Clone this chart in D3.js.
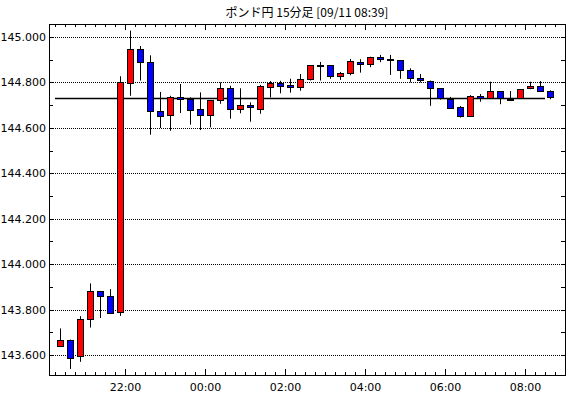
<!DOCTYPE html>
<html lang="ja">
<head>
  <meta charset="utf-8">
  <title>ポンド円 15分足</title>
  <style>
    body { margin: 0; background: #fff; }
    .axis text { font: 11px "DejaVu Sans", sans-serif; fill: #000; }
    .axis line { stroke: #000; shape-rendering: crispEdges; }
    .axis path { display: none; }
    .grid line { stroke: #000; stroke-dasharray: 1,1; shape-rendering: crispEdges; }
    .title { font: 12px "Noto Sans CJK JP", sans-serif; text-anchor: middle; }
  </style>
</head>
<body>
  <div id="chart"></div>

  <script src="https://d3js.org/d3.v7.min.js"></script>
  <script>
    // 15分足 (start times), 20:15 on 09/10 .. 08:30 on 09/11
    var times = [
      "20:15","20:30","20:45","21:00","21:15","21:30","21:45","22:00","22:15","22:30",
      "22:45","23:00","23:15","23:30","23:45","00:00","00:15","00:30","00:45","01:00",
      "01:15","01:30","01:45","02:00","02:15","02:30","02:45","03:00","03:15","03:30",
      "03:45","04:00","04:15","04:30","04:45","05:00","05:15","05:30","05:45","06:00",
      "06:15","06:30","06:45","07:00","07:15","07:30","07:45","08:00","08:15","08:30"
    ];
    var opens = [
      143.642,143.668,143.592,143.757,143.882,143.859,143.786,144.800,144.948,144.889,
      144.673,144.653,144.736,144.728,144.681,144.656,144.721,144.774,144.681,144.700,
      144.684,144.783,144.799,144.789,144.778,144.814,144.875,144.875,144.828,144.840,
      144.889,144.880,144.912,144.902,144.897,144.853,144.818,144.805,144.774,144.728,
      144.690,144.651,144.740,144.731,144.762,144.729,144.730,144.774,144.783,144.761
    ];
    var highs = [
      143.717,143.668,143.771,143.915,143.882,143.890,144.827,145.028,144.960,144.919,
      144.758,144.741,144.793,144.734,144.756,144.722,144.800,144.785,144.774,144.712,
      144.789,144.806,144.807,144.816,144.837,144.876,144.890,144.875,144.846,144.903,
      144.902,144.913,144.921,144.921,144.897,144.862,144.837,144.808,144.774,144.736,
      144.696,144.744,144.749,144.803,144.762,144.762,144.771,144.803,144.806,144.765
    ];
    var lows = [
      143.642,143.539,143.570,143.721,143.763,143.783,143.772,144.741,144.808,144.570,
      144.599,144.587,144.665,144.614,144.590,144.602,144.706,144.640,144.664,144.627,
      144.662,144.734,144.752,144.755,144.763,144.808,144.808,144.816,144.811,144.831,
      144.843,144.867,144.889,144.833,144.816,144.800,144.800,144.697,144.724,144.687,
      144.645,144.651,144.715,144.731,144.704,144.718,144.730,144.770,144.761,144.726
    ];
    var closes = [
      143.668,143.587,143.757,143.882,143.859,143.786,144.800,144.948,144.889,144.673,
      144.653,144.734,144.726,144.681,144.653,144.721,144.774,144.681,144.700,144.689,
      144.784,144.799,144.787,144.778,144.814,144.875,144.875,144.827,144.841,144.893,
      144.880,144.911,144.902,144.898,144.853,144.818,144.808,144.772,144.730,144.690,
      144.649,144.740,144.731,144.762,144.731,144.729,144.771,144.783,144.761,144.734
    ];
    var currentPrice = 144.730;
    var yTicks = [143.6, 143.8, 144.0, 144.2, 144.4, 144.6, 144.8, 145.0];
    var titleText = "ポンド円 15分足 [09/11 08:39]";

    var W = 570, H = 398;
    var mLeft = 49, mRight = 565, mTop = 24, mBottom = 375;

    function toDate(s) {
      var h = +s.slice(0, 2), m = +s.slice(3, 5);
      var day = h >= 12 ? 10 : 11;
      return new Date(2023, 8, day, h, m);
    }

    var data = times.map(function(t, i) {
      return { t: toDate(t), o: opens[i], h: highs[i], l: lows[i], c: closes[i] };
    });

    var x = d3.scaleTime()
      .domain([new Date(2023, 8, 10, 20, 6), new Date(2023, 8, 11, 9, 0)])
      .range([mLeft, mRight]);

    var y = d3.scaleLinear()
      .domain([143.512, 145.057])
      .range([mBottom, mTop]);

    var svg = d3.select("#chart").append("svg")
      .attr("width", W)
      .attr("height", H);

    svg.append("text")
      .attr("class", "title")
      .attr("x", (mLeft + mRight) / 2)
      .attr("y", 17)
      .text(titleText);

    // grid
    svg.append("g").attr("class", "grid")
      .selectAll("line")
      .data(yTicks)
      .enter().append("line")
      .attr("x1", mLeft).attr("x2", mRight)
      .attr("y1", function(d) { return Math.round(y(d)) + 0.5; })
      .attr("y2", function(d) { return Math.round(y(d)) + 0.5; });

    var minor = d3.timeMinute.every(15).range(new Date(2023, 8, 10, 20, 15), new Date(2023, 8, 11, 9, 1));
    var major = d3.timeHour.every(2).range(new Date(2023, 8, 10, 22, 0), new Date(2023, 8, 11, 9, 0));
    var fmt = d3.timeFormat("%H:%M");

    svg.append("g").attr("class", "axis")
      .attr("transform", "translate(0," + mBottom + ")")
      .call(d3.axisBottom(x).tickValues(minor).tickSize(-3).tickFormat(""));
    svg.append("g").attr("class", "axis")
      .attr("transform", "translate(0," + mBottom + ")")
      .call(d3.axisBottom(x).tickValues(major).tickSize(-6).tickPadding(8).tickFormat(fmt));
    svg.append("g").attr("class", "axis")
      .attr("transform", "translate(0," + mTop + ")")
      .call(d3.axisTop(x).tickValues(minor).tickSize(-3).tickFormat(""));
    svg.append("g").attr("class", "axis")
      .attr("transform", "translate(0," + mTop + ")")
      .call(d3.axisTop(x).tickValues(major).tickSize(-6).tickFormat(""));

    var yMinor = d3.range(143.6, 145.05, 0.1);
    svg.append("g").attr("class", "axis")
      .attr("transform", "translate(" + mLeft + ",0)")
      .call(d3.axisLeft(y).tickValues(yMinor).tickSize(-4).tickFormat(""));
    svg.append("g").attr("class", "axis")
      .attr("transform", "translate(" + mLeft + ",0)")
      .call(d3.axisLeft(y).tickValues(yTicks).tickSize(0).tickPadding(3).tickFormat(d3.format(".3f")));
    svg.append("g").attr("class", "axis")
      .attr("transform", "translate(" + mRight + ",0)")
      .call(d3.axisRight(y).tickValues(yMinor).tickSize(-4).tickFormat(""));

    // current price line
    svg.append("line")
      .attr("x1", x(data[0].t)).attr("x2", x(data[data.length - 1].t))
      .attr("y1", Math.round(y(currentPrice)) + 0.5)
      .attr("y2", Math.round(y(currentPrice)) + 0.5)
      .attr("stroke", "#000")
      .attr("stroke-width", 1.3);

    var half = 7.5 * 60000;
    function cx(d) { return Math.round(x(new Date(+d.t + half))) + 0.5; }

    var candle = svg.append("g").selectAll("g")
      .data(data)
      .enter().append("g");

    candle.append("line")
      .attr("x1", cx).attr("x2", cx)
      .attr("y1", function(d) { return y(d.h); })
      .attr("y2", function(d) { return y(d.l); })
      .attr("stroke", "#000");

    candle.append("rect")
      .attr("x", function(d) { return cx(d) - 3; })
      .attr("width", 6)
      .attr("y", function(d) { return Math.round(y(Math.max(d.o, d.c))) + 0.5; })
      .attr("height", function(d) { return Math.max(1, Math.round(Math.abs(y(d.o) - y(d.c)))); })
      .attr("fill", function(d) { return d.c > d.o ? "#ff0000" : (d.c < d.o ? "#0000ff" : "#000"); })
      .attr("stroke", "#000")
      .attr("shape-rendering", "crispEdges");

    // frame
    svg.append("rect")
      .attr("x", mLeft + 0.5).attr("y", mTop + 0.5)
      .attr("width", mRight - mLeft).attr("height", mBottom - mTop)
      .attr("fill", "none")
      .attr("stroke", "#000")
      .attr("shape-rendering", "crispEdges");
  </script>
</body>
</html>
